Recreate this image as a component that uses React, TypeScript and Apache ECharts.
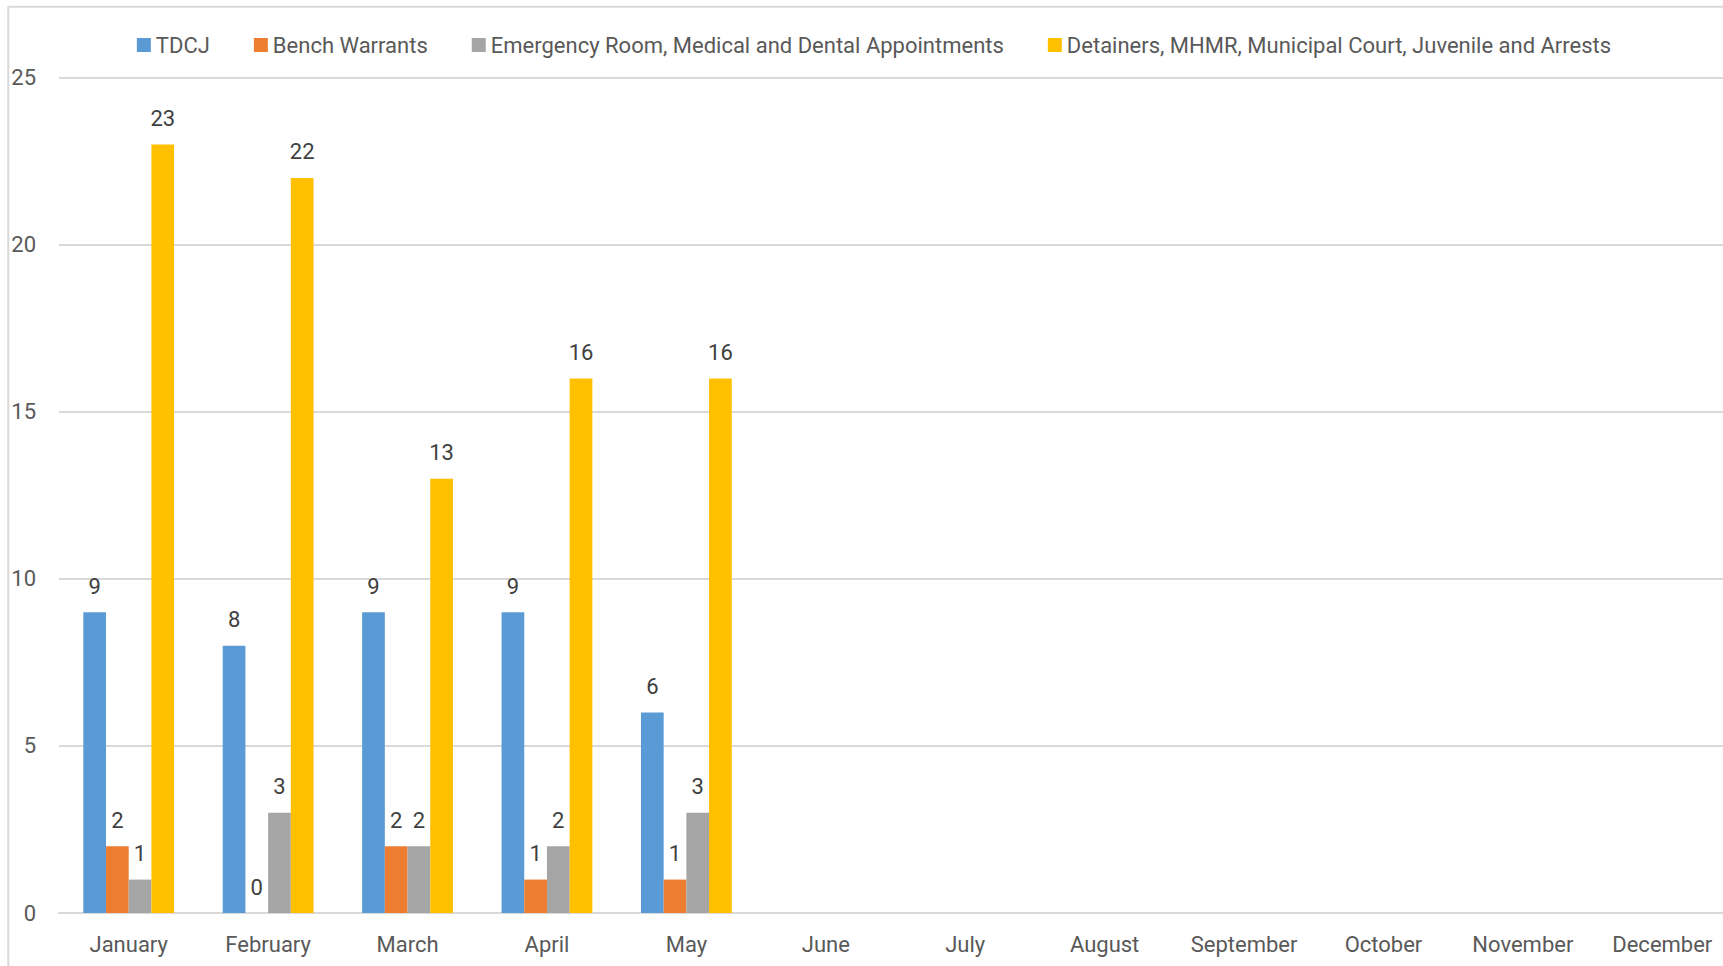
import React, { useEffect, useRef } from "react";
import * as echarts from "echarts";

const months = [
  "January", "February", "March", "April", "May", "June",
  "July", "August", "September", "October", "November", "December",
];
const seriesNames = [
  "TDCJ",
  "Bench Warrants",
  "Emergency Room, Medical and Dental Appointments",
  "Detainers, MHMR, Municipal Court, Juvenile and Arrests",
];
const tdcj = [9, 8, 9, 9, 6];
const benchWarrants = [2, 0, 2, 1, 1];
const emergencyRoom = [1, 3, 2, 2, 3];
const detainers = [23, 22, 13, 16, 16];
const colors = ["#5B9BD5", "#ED7D31", "#A5A5A5", "#FFC000"];
const yTicks = { min: 0, max: 25, interval: 5 };

const FONT = "Roboto, 'Noto Sans', sans-serif";

export default function App() {
  const ref = useRef<HTMLDivElement>(null);
  useEffect(() => {
    if (!ref.current) return;
    const chart = echarts.init(ref.current, undefined, { renderer: "svg" });
    const values = [tdcj, benchWarrants, emergencyRoom, detainers];
    chart.setOption({
      animation: false,
      backgroundColor: "#ffffff",
      textStyle: { fontFamily: FONT },
      graphic: [
        {
          type: "rect",
          shape: { x: 8.3, y: 6.7, width: 3000, height: 3000 },
          style: { fill: "none", stroke: "#d9d9d9", lineWidth: 2 },
          silent: true,
        },
      ],
      legend: {
        data: seriesNames,
        left: "center",
        top: 34,
        padding: 0,
        itemWidth: 14,
        itemHeight: 14,
        itemGap: 44,
        icon: "rect",
        textStyle: { color: "#595959", fontSize: 22, fontFamily: FONT },
      },
      grid: { left: 59, right: 16, top: 77.7, bottom: 67, containLabel: false },
      xAxis: {
        type: "category",
        data: months,
        axisLine: { show: true, lineStyle: { color: "#d9d9d9", width: 2 } },
        axisTick: { show: false },
        axisLabel: { color: "#595959", fontSize: 22, margin: 20, fontFamily: FONT, interval: 0 },
      },
      yAxis: {
        type: "value",
        min: yTicks.min,
        max: yTicks.max,
        interval: yTicks.interval,
        axisLine: { show: false },
        axisTick: { show: false },
        splitLine: { lineStyle: { color: "#d9d9d9", width: 2 } },
        axisLabel: { color: "#595959", fontSize: 22, margin: 23, fontFamily: FONT },
      },
      series: seriesNames.map((name, i) => ({
        name,
        type: "bar",
        data: values[i],
        barWidth: 22.7,
        barGap: "0%",
        itemStyle: { color: colors[i] },
        label: {
          show: true,
          position: "top",
          distance: 15,
          color: "#404040",
          fontSize: 22,
          fontFamily: FONT,
        },
      })),
    });
    return () => chart.dispose();
  }, []);
  return (
    <div
      style={{
        position: "fixed",
        left: 0,
        top: 0,
        width: 1723,
        height: 966,
        overflow: "hidden",
        background: "#fff",
      }}
    >
      <div ref={ref} style={{ width: 1748, height: 980 }} />
    </div>
  );
}
